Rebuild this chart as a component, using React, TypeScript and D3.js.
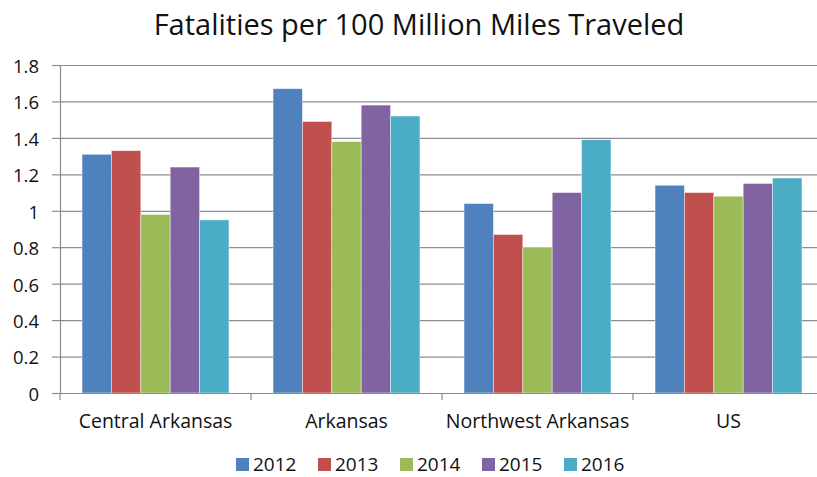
import { useRef, useEffect } from 'react';
import { select, scaleLinear, scaleBand, axisLeft, axisBottom } from 'd3';

const categories = ['Central Arkansas', 'Arkansas', 'Northwest Arkansas', 'US'];
const years = ['2012', '2013', '2014', '2015', '2016'];
const colors = ['#4F81BD', '#C0504D', '#9BBB59', '#8064A2', '#4BACC6'];
// values[category][year]
const values = [
  [1.31, 1.33, 0.98, 1.24, 0.95],
  [1.67, 1.49, 1.38, 1.58, 1.52],
  [1.04, 0.87, 0.80, 1.10, 1.39],
  [1.14, 1.10, 1.08, 1.15, 1.18],
];
const yTicks = [0, 0.2, 0.4, 0.6, 0.8, 1, 1.2, 1.4, 1.6, 1.8];

export default function App() {
  const svgRef = useRef<SVGSVGElement>(null);

  useEffect(() => {
    if (!svgRef.current) return;
    const svg = select(svgRef.current);
    svg.selectAll('*').remove();

    const width = 817;
    const height = 477;
    const margin = { top: 65, left: 60 };
    const innerW = 764;
    const innerH = 328;
    const font = '"Open Sans", sans-serif';
    const axisColor = '#8c8c8c';

    const g = svg.append('g').attr('transform', `translate(${margin.left},${margin.top})`);

    const x = scaleBand().domain(categories).range([0, innerW]);
    // Excel gap width 150%: five bars take 5/6.5 of each band
    const x1 = scaleBand().domain(years).range([0, x.bandwidth()]).paddingOuter(0.75);
    const y = scaleLinear().domain([0, 1.8]).range([innerH, 0]);

    // Grid
    g.append('g')
      .call(axisLeft(y).tickValues(yTicks).tickSize(-innerW).tickFormat(() => '') as any)
      .call(s => s.select('.domain').remove())
      .selectAll('line').attr('stroke', axisColor).attr('stroke-width', 1.2);

    // Bars
    categories.forEach((c, ci) => {
      g.append('g').attr('transform', `translate(${x(c)},0)`)
        .selectAll('rect').data(values[ci]).join('rect')
        .attr('x', (_d, i) => x1(years[i]) ?? 0)
        .attr('y', d => y(d))
        .attr('width', x1.bandwidth())
        .attr('height', d => innerH - y(d))
        .attr('fill', (_d, i) => colors[i])
        .attr('stroke', 'rgba(255,255,255,0.55)')
        .attr('stroke-width', 0.8);
    });

    // Y axis
    const ya = g.append('g')
      .call(axisLeft(y).tickValues(yTicks).tickSize(8).tickPadding(13).tickFormat(d => String(+d)) as any);
    ya.select('.domain').attr('stroke', axisColor).attr('stroke-width', 1.2);
    ya.selectAll('line').attr('stroke', axisColor).attr('stroke-width', 1.2);
    ya.selectAll('text').attr('fill', '#111').attr('dy', '0.4em')
      .style('font-size', '18.5px').style('font-family', font);

    // X axis
    const xa = g.append('g').attr('transform', `translate(0,${innerH})`)
      .call(axisBottom(x).tickSize(0).tickPadding(21) as any);
    xa.select('.domain').attr('stroke', axisColor).attr('stroke-width', 1.2);
    xa.selectAll('text').attr('fill', '#111').style('font-size', '19.5px').style('font-family', font);
    g.append('g').selectAll('line').data([...categories.map(c => x(c) ?? 0), innerW]).join('line')
      .attr('x1', d => d).attr('x2', d => d).attr('y1', innerH).attr('y2', innerH + 7)
      .attr('stroke', axisColor).attr('stroke-width', 1.2);

    // Title
    svg.append('text').attr('x', 419).attr('y', 35).attr('text-anchor', 'middle')
      .attr('fill', '#111').style('font-size', '29px').style('font-weight', 400)
      .style('font-family', '"Open Sans", sans-serif')
      .text('Fatalities per 100 Million Miles Traveled');

    // Legend
    const legendX = 236;
    const step = 82;
    const lg = svg.append('g').attr('transform', `translate(${legendX},${464.5})`);
    const items = lg.selectAll('g').data(years).join('g')
      .attr('transform', (_d, i) => `translate(${i * step},0)`);
    items.append('rect').attr('x', 0).attr('y', -6.5).attr('width', 13).attr('height', 13)
      .attr('fill', (_d, i) => colors[i]);
    items.append('text').attr('x', 17).attr('y', 6.5).text(d => d)
      .attr('fill', '#111').style('font-size', '19px').style('font-family', font);

    svg.attr('width', width).attr('height', height);
  }, []);

  return (
    <svg ref={svgRef} width={817} height={477}
      style={{ position: 'absolute', left: 0, top: 0, background: '#fff' }} />
  );
}
